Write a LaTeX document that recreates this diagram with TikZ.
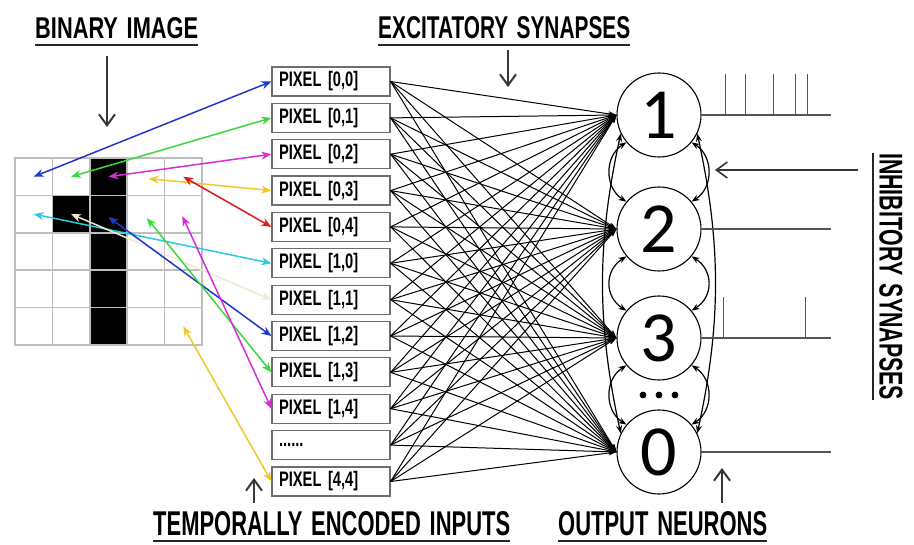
\documentclass[tikz,border=0pt]{standalone}
\usepackage{fontspec}
\usepackage{graphicx}
\setmainfont{Liberation Sans}
\newfontfamily\digitfont{Carlito}
\usetikzlibrary{arrows.meta,calc}
\newcommand\cnd[1]{\scalebox{0.7}[1]{\fontsize{21}{21}\selectfont\bfseries #1}}
\newcommand\lbl[3]{\resizebox{#1pt}{#2pt}{\bfseries #3}}
\definecolor{cblue}{RGB}{30,55,205}
\definecolor{cgreen}{RGB}{60,215,60}
\definecolor{cmag}{RGB}{215,45,215}
\definecolor{cyel}{RGB}{240,200,40}
\definecolor{cred}{RGB}{220,25,25}
\definecolor{ccyan}{RGB}{45,200,225}
\definecolor{cpale}{RGB}{238,234,214}
\definecolor{gridgray}{RGB}{190,190,190}
\definecolor{boxgray}{RGB}{110,110,110}
\definecolor{inkgray}{RGB}{55,55,55}
\definecolor{spkgray}{RGB}{85,85,85}
\begin{document}
\begin{tikzpicture}[x=1pt,y=-1pt,
  cell/.style={rectangle,draw=gridgray,line width=1.5pt,minimum size=37.4pt,inner sep=0pt},
  blk/.style={cell,fill=black},
  pbox/.style={rectangle,draw=boxgray,line width=1.2pt,minimum height=29pt,text width=104pt,inner xsep=7pt,inner ysep=0pt,align=left},
  neuron/.style={circle,draw=black,line width=1.1pt,minimum size=84pt,inner sep=0pt,font=\digitfont\fontsize{72}{72}\selectfont},
  lab/.style={inner sep=0pt,anchor=south west},
  uline/.style={draw=black!85,line width=2pt},
  labarrow/.style={draw=inkgray,line width=2pt,-{Straight Barb[length=11pt,width=16pt]}},
  exc/.style={draw=black,line width=1pt,-{Stealth[length=8pt,width=5pt]}},
  inh/.style={draw=black,line width=1.2pt,{Stealth[length=8pt,width=6pt]}-{Stealth[length=8pt,width=6pt]}},
  col/.style={line width=1.5pt,{Stealth[length=10pt,width=8pt]}-{Stealth[length=10pt,width=8pt]}},
  spike/.style={draw=spkgray,line width=1.5pt}
]
\fill[white] (0,0) rectangle (914,545);
\useasboundingbox (0,0) rectangle (914,545);

% binary image grid
\node[cell] (c00) at (33.7,176.7) {};
\node[cell] (c01) at (71.1,176.7) {};
\node[blk]  (c02) at (108.5,176.7) {};
\node[cell] (c03) at (145.9,176.7) {};
\node[cell] (c04) at (183.3,176.7) {};
\node[cell] (c10) at (33.7,214.1) {};
\node[blk]  (c11) at (71.1,214.1) {};
\node[blk]  (c12) at (108.5,214.1) {};
\node[cell] (c13) at (145.9,214.1) {};
\node[cell] (c14) at (183.3,214.1) {};
\node[cell] (c20) at (33.7,251.5) {};
\node[cell] (c21) at (71.1,251.5) {};
\node[blk]  (c22) at (108.5,251.5) {};
\node[cell] (c23) at (145.9,251.5) {};
\node[cell] (c24) at (183.3,251.5) {};
\node[cell] (c30) at (33.7,288.9) {};
\node[cell] (c31) at (71.1,288.9) {};
\node[blk]  (c32) at (108.5,288.9) {};
\node[cell] (c33) at (145.9,288.9) {};
\node[cell] (c34) at (183.3,288.9) {};
\node[cell] (c40) at (33.7,326.3) {};
\node[cell] (c41) at (71.1,326.3) {};
\node[blk]  (c42) at (108.5,326.3) {};
\node[cell] (c43) at (145.9,326.3) {};
\node[cell] (c44) at (183.3,326.3) {};

% pixel boxes
\node[pbox] (p0)  at (331,81.5)  {\cnd{PIXEL\hspace{0.45em}[0,0]}};
\node[pbox] (p1)  at (331,117.9) {\cnd{PIXEL\hspace{0.45em}[0,1]}};
\node[pbox] (p2)  at (331,154.2) {\cnd{PIXEL\hspace{0.45em}[0,2]}};
\node[pbox] (p3)  at (331,190.6) {\cnd{PIXEL\hspace{0.45em}[0,3]}};
\node[pbox] (p4)  at (331,226.9) {\cnd{PIXEL\hspace{0.45em}[0,4]}};
\node[pbox] (p5)  at (331,263.3) {\cnd{PIXEL\hspace{0.45em}[1,0]}};
\node[pbox] (p6)  at (331,299.7) {\cnd{PIXEL\hspace{0.45em}[1,1]}};
\node[pbox] (p7)  at (331,336.0) {\cnd{PIXEL\hspace{0.45em}[1,2]}};
\node[pbox] (p8)  at (331,372.4) {\cnd{PIXEL\hspace{0.45em}[1,3]}};
\node[pbox] (p9)  at (331,408.7) {\cnd{PIXEL\hspace{0.45em}[1,4]}};
\node[pbox] (p10) at (331,445.1) {\cnd{......}};
\node[pbox] (p11) at (331,481.5) {\cnd{PIXEL\hspace{0.45em}[4,4]}};

% output neurons
\node[neuron] (n1) at (659,115) {1};
\node[neuron] (n2) at (659,229) {2};
\node[neuron] (n3) at (659,338) {3};
\node[neuron] (n0) at (659,452) {0};
\fill (643,395) circle (3.4);
\fill (659,395) circle (3.4);
\fill (675,395) circle (3.4);

% excitatory synapses
\foreach \i in {0,...,11}{
  \foreach \j in {1,2,3,0}{
    \draw[exc] (p\i.east) -- (n\j.west);
  }
}

% colour-coded pixel links
\draw[col,cblue]  (p0.west) -- (c00.center);
\draw[col,cgreen] (p1.west) -- (c01.center);
\draw[col,cmag]   (p2.west) -- (c02.center);
\draw[col,cyel]   (p3.west) -- ($(c03.center)+(3,2)$);
\draw[col,cred]   (p4.west) -- (c04.center);
\draw[col,ccyan]  (p5.west) -- (c10.center);
\draw[col,cpale]  (p6.west) -- (c11.center);
\draw[col,cblue]  (p7.west) -- ($(c12.center)+(0,3)$);
\draw[col,cgreen] (p8.west) -- ($(c13.center)+(1,4)$);
\draw[col,cmag]   (p9.west) -- ($(c14.center)+(-1,2)$);
\draw[col,cyel]   (p11.west) -- (c44.center);

% inhibitory synapses
\draw[inh] (n1.220) .. controls +(-22,14) and +(-22,-14) .. (n2.140);
\draw[inh] (n2.220) .. controls +(-22,14) and +(-22,-14) .. (n3.140);
\draw[inh] (n3.220) .. controls +(-22,14) and +(-22,-14) .. (n0.140);
\draw[inh] (n1.320) .. controls +(22,14) and +(22,-14) .. (n2.40);
\draw[inh] (n2.320) .. controls +(22,14) and +(22,-14) .. (n3.40);
\draw[inh] (n3.320) .. controls +(22,14) and +(22,-14) .. (n0.40);
\draw[inh] (n1.206) .. controls +(-24,110) and +(-24,-110) .. (n0.154);
\draw[inh] (n1.334) .. controls +(24,110) and +(24,-110) .. (n0.26);

% spike trains
\draw[spike] (n1.east) -- ++(129,0) coordinate (s1);
\draw[spike] ($(n1.east)+(24,0)$) -- ++(0,-41);
\draw[spike] ($(n1.east)+(44,0)$) -- ++(0,-41);
\draw[spike] ($(n1.east)+(72,0)$) -- ++(0,-41);
\draw[spike] ($(n1.east)+(94,0)$) -- ++(0,-41);
\draw[spike] ($(n1.east)+(106,0)$) -- ++(0,-41);
\draw[spike] (n2.east) -- ++(129,0) coordinate (s2);
\draw[spike] (n3.east) -- ++(129,0) coordinate (s3);
\draw[spike] ($(n3.east)+(22,0)$) -- ++(0,-41);
\draw[spike] ($(n3.east)+(104,0)$) -- ++(0,-41);
\draw[spike] (n0.east) -- ++(129,0) coordinate (s0);

% labels
\node[lab] (lbin) at (35,39) {\lbl{163}{21}{BINARY\hspace{0.4em}IMAGE}};
\draw[uline] ([yshift=-6pt]lbin.south west) -- ([yshift=-6pt]lbin.south east);
\node[lab] (lexc) at (378,39) {\lbl{252}{22}{EXCITATORY\hspace{0.4em}SYNAPSES}};
\draw[uline] ([yshift=-6pt]lexc.south west) -- ([yshift=-6pt]lexc.south east);
\node[lab] (ltmp) at (153,536) {\lbl{357}{24}{TEMPORALLY\hspace{0.4em}ENCODED\hspace{0.4em}INPUTS}};
\draw[uline] ([yshift=-5pt]ltmp.south west) -- ([yshift=-5pt]ltmp.south east);
\node[lab] (lout) at (558,536) {\lbl{209}{24}{OUTPUT\hspace{0.4em}NEURONS}};
\draw[uline] ([yshift=-5pt]lout.south west) -- ([yshift=-5pt]lout.south east);
\node[lab,rotate=-90] (linh) at (879,153) {\lbl{247}{23}{INHIBITORY\hspace{0.4em}SYNAPSES}};
\draw[uline] ([xshift=-6pt]linh.south west) -- ([xshift=-6pt]linh.south east);

% label pointers
\coordinate (a1s) at (107,56);  \coordinate (a1e) at (107,127);
\coordinate (a2s) at (508,50);  \coordinate (a2e) at (508,87);
\coordinate (a3s) at (254,503); \coordinate (a3e) at (254,478);
\coordinate (a4s) at (722,503); \coordinate (a4e) at (722,468);
\coordinate (a5s) at (858,170); \coordinate (a5e) at (715,170);
\draw[labarrow] (a1s) -- (a1e);
\draw[labarrow] (a2s) -- (a2e);
\draw[labarrow] (a3s) -- (a3e);
\draw[labarrow] (a4s) -- (a4e);
\draw[labarrow,line width=1.6pt] (a5s) -- (a5e);
\end{tikzpicture}
\end{document}
